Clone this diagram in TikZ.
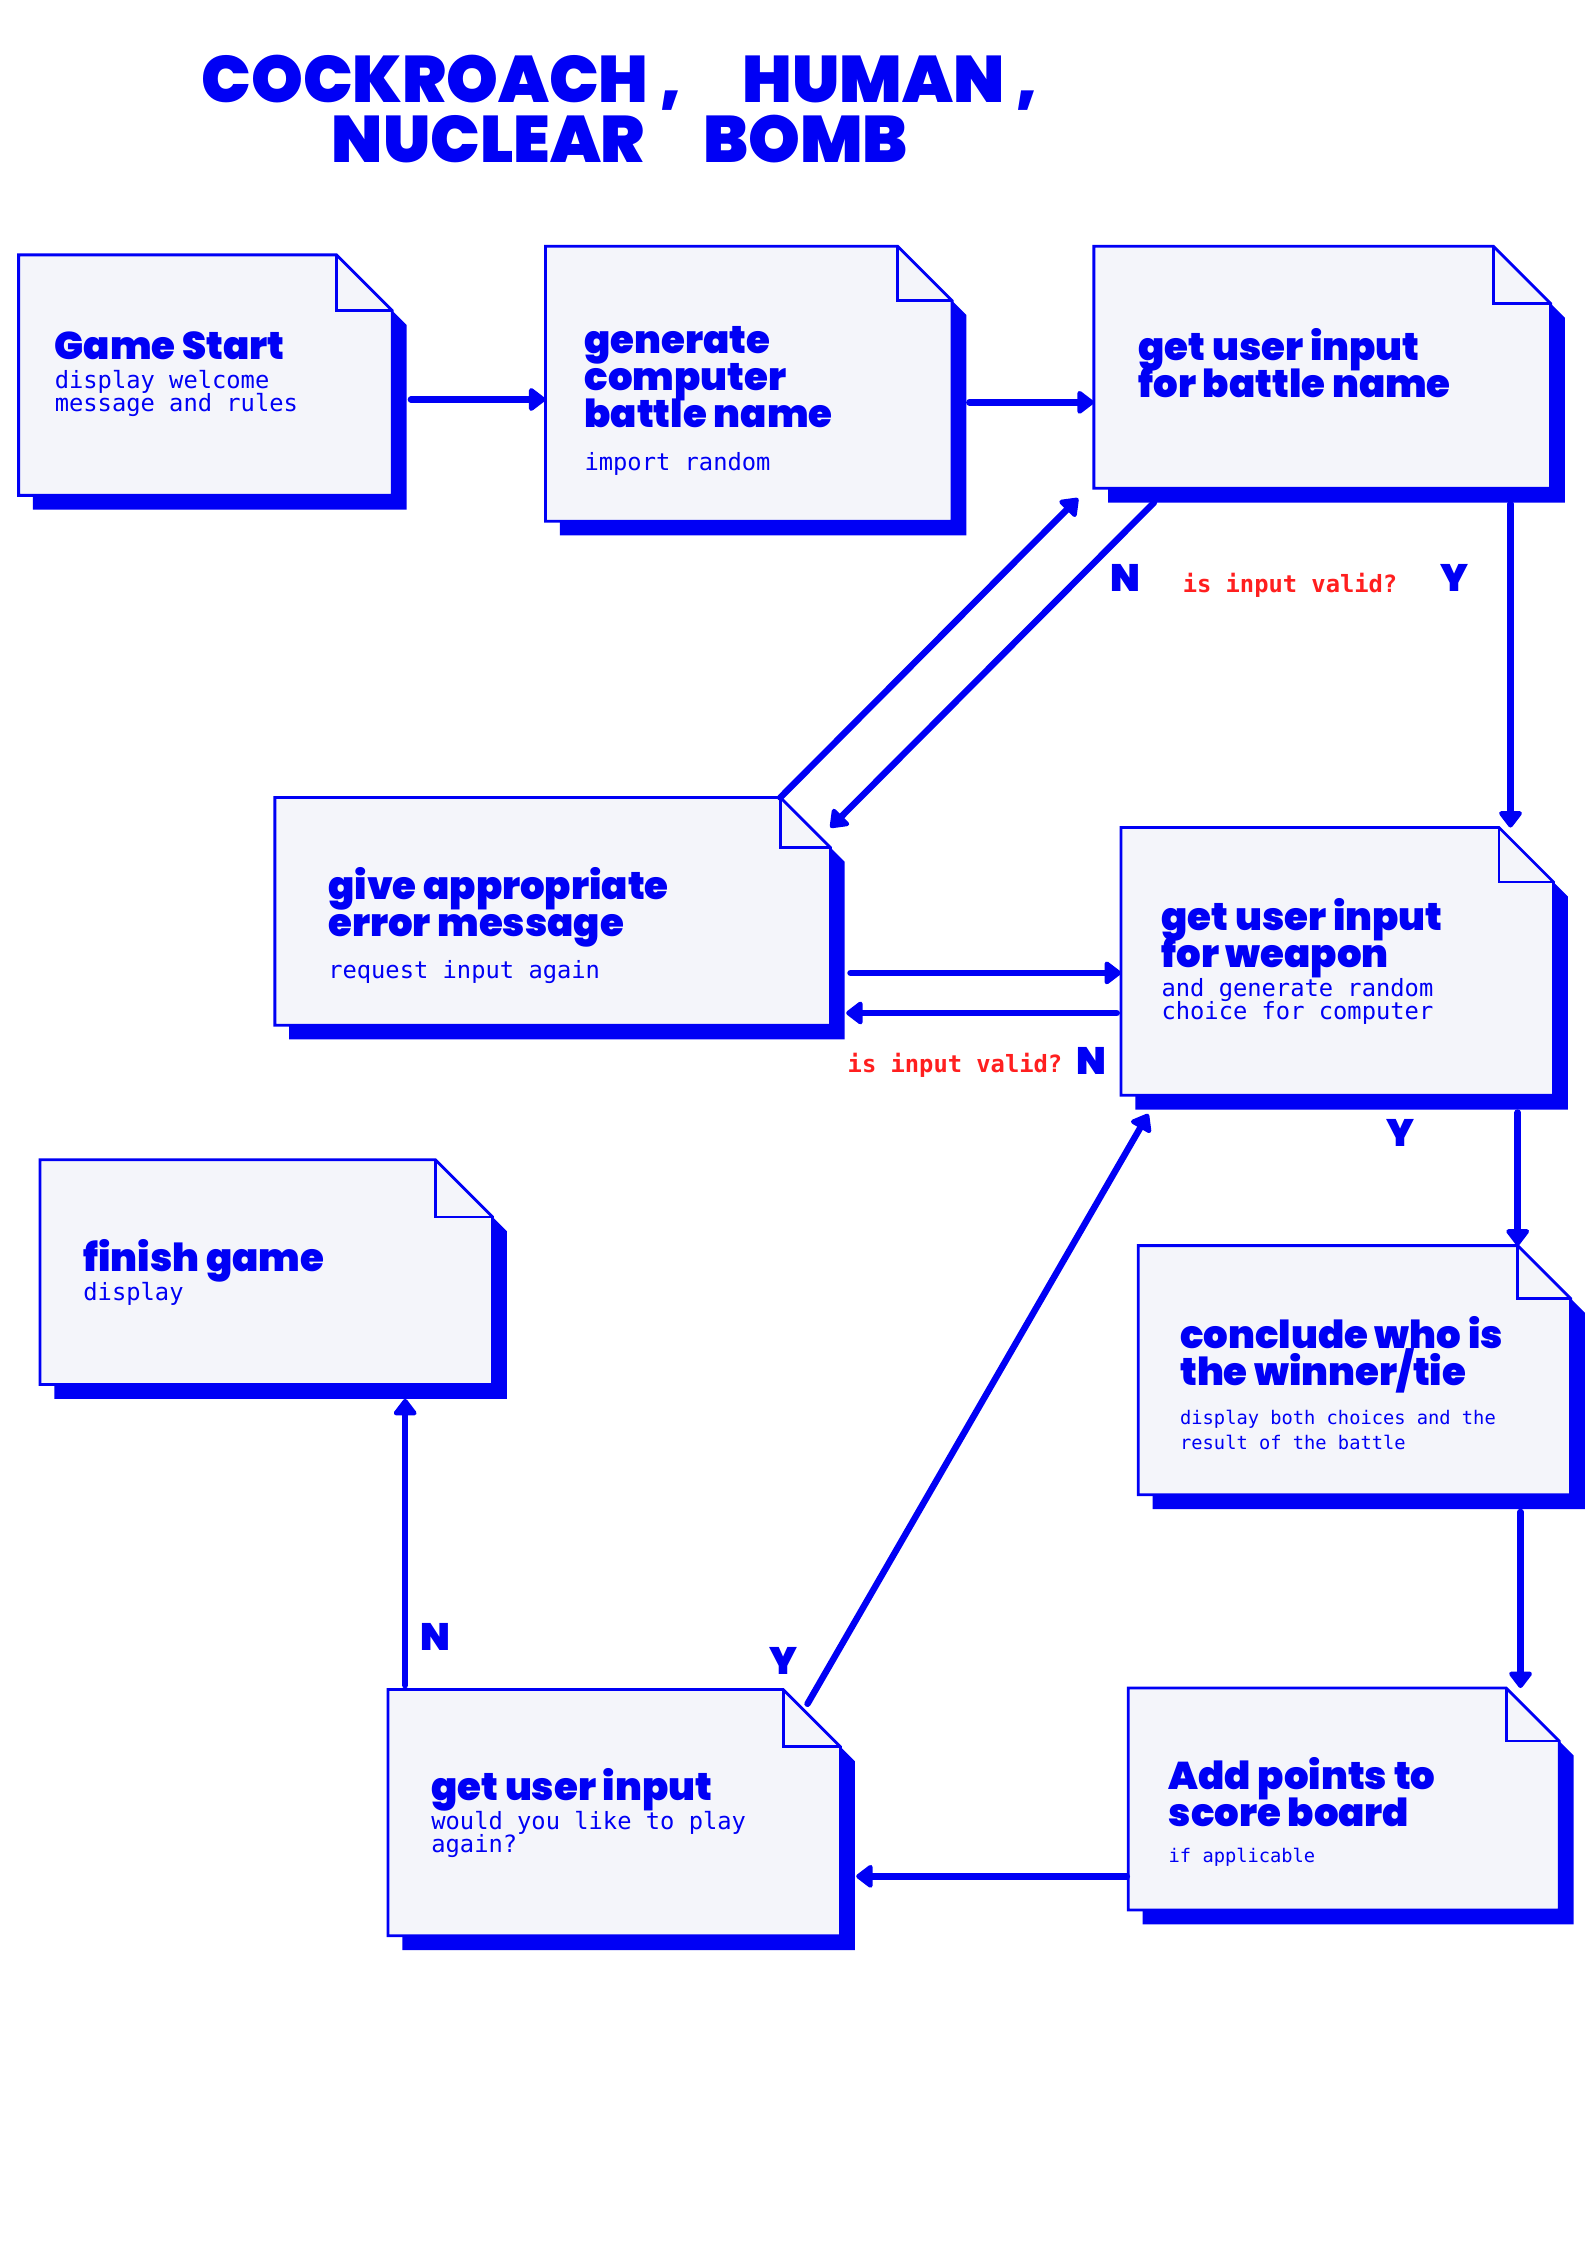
\documentclass[tikz,border=0pt]{standalone}
\usepackage{fontspec}
\setmainfont{Poppins}
\newfontfamily\heavyfont{Poppins}[UprightFont=* Black]
\newfontfamily\codefont{DejaVu Sans Mono}
\usepackage{xcolor}
\usetikzlibrary{arrows.meta, positioning, calc}

\definecolor{inkblue}{HTML}{0000F5}
\definecolor{paper}{HTML}{F4F5FA}
\definecolor{alertred}{HTML}{FF1F1F}

% text inside the sheets
\newcommand\boxhead[1]{{\heavyfont\fontsize{19.2}{18.2}\selectfont
  \lineskiplimit=-20pt\lineskip=0pt #1\par}}
\newcommand\boxnote[2][3pt]{{\vspace{#1}\codefont\fontsize{11.8}{11.4}\selectfont
  \spaceskip=0pt\xspaceskip=0pt\lineskiplimit=-20pt\lineskip=0pt #2\par}}
\newcommand\smallnote[2][3pt]{{\vspace{#1}\codefont\fontsize{9.3}{12.1}\selectfont
  \spaceskip=0pt\xspaceskip=0pt\lineskiplimit=-20pt\lineskip=0pt #2\par}}

% dog-eared sheet with offset shadow: name, left, top, right, bottom, fold
\newcommand\docbox[6]{%
  \pgfmathsetmacro\boxw{(#4-#2)*0.025}%
  \pgfmathsetmacro\boxh{(#5-#3)*0.025}%
  \node[docframe, minimum width=\boxw cm, minimum height=\boxh cm] (#1) at ({(#2+#4)/2},{(#3+#5)/2}) {};
  \fill[inkblue] ([shift={(10,10)}]#1.north west) -- ([shift={(10-#6,10)}]#1.north east)
    -- ([shift={(10,10+#6)}]#1.north east) -- ([shift={(10,10)}]#1.south east)
    -- ([shift={(10,10)}]#1.south west) -- cycle;
  \filldraw[sheet] (#1.north west) -- ([shift={(-#6,0)}]#1.north east)
    -- ([shift={(0,#6)}]#1.north east) -- (#1.south east) -- (#1.south west) -- cycle;
  \draw[sheet, fill=none] ([shift={(-#6,0)}]#1.north east) -- ([shift={(-#6,#6)}]#1.north east)
    -- ([shift={(0,#6)}]#1.north east);
}

\begin{document}
\begin{tikzpicture}[x=0.025cm, y=-0.025cm,
  docframe/.style={rectangle, inner sep=0pt, outer sep=0pt},
  sheet/.style={fill=paper, draw=inkblue, line width=1.4pt, line join=miter},
  boxtext/.style={anchor=west, inner sep=0pt, text width=8cm, align=left, text=inkblue},
  flow/.style={draw=inkblue, line width=3.2pt, line cap=round, -{Triangle[round, length=9pt, width=13pt]}},
  yn/.style={font=\heavyfont\fontsize{19}{19}\selectfont, text=inkblue, inner sep=0pt},
  check/.style={font=\codefont\bfseries\fontsize{11.8}{12}\selectfont, text=alertred, inner sep=0pt}]

  \fill[white] (0,0) rectangle (1108,1568);
  \useasboundingbox (0,0) rectangle (1108,1568);

  % Title
  \node[font=\heavyfont\fontsize{32.7}{30}\selectfont, text=inkblue, align=center]
    (title) at (433,76) {COCKROACH ,\hspace{30pt}HUMAN ,\\NUCLEAR\hspace{29pt}BOMB};

  % Sheets
  \docbox{start}{13}{178}{274}{346}{39}
  \docbox{gen}{381}{172}{665}{364}{38}
  \docbox{bname}{764}{172}{1083}{341}{40}
  \docbox{err}{192}{557}{580}{716}{35}
  \docbox{wpn}{783}{578}{1085}{765}{38}
  \docbox{finish}{28}{810}{344}{967}{40}
  \docbox{win}{795}{870}{1097}{1044}{37}
  \docbox{again}{271}{1180}{587}{1352}{40}
  \docbox{pts}{788}{1179}{1089}{1334}{37}

  % Sheet texts
  \node[boxtext] (start-txt) at ([shift={(25,-1)}]start.west)
    {\boxhead{Game Start}\boxnote{display welcome\\message and rules}};
  \node[boxtext] (gen-txt) at ([shift={(27,12)}]gen.west)
    {\boxhead{generate\\computer\\battle name}\boxnote[10pt]{import random}};
  \node[boxtext] (bname-txt) at ([shift={(31,-3)}]bname.west)
    {\boxhead{get user input\\for battle name}};
  \node[boxtext] (err-txt) at ([shift={(37,10)}]err.west)
    {\boxhead{give appropriate\\error message}\boxnote[9.5pt]{request input again}};
  \node[boxtext] (wpn-txt) at ([shift={(28,0)}]wpn.west)
    {\boxhead{get user input\\for weapon}\boxnote{and generate random\\choice for computer}};
  \node[boxtext] (finish-txt) at ([shift={(30,0)}]finish.west)
    {\boxhead{finish game}\boxnote{display}};
  \node[boxtext] (win-txt) at ([shift={(29,9)}]win.west)
    {\boxhead{conclude who is\\the winner/tie}\smallnote[7.5pt]{display both choices and the\\result of the battle}};
  \node[boxtext] (again-txt) at ([shift={(30,0)}]again.west)
    {\boxhead{get user input}\boxnote{would you like to play\\again?}};
  \node[boxtext] (pts-txt) at ([shift={(28,9)}]pts.west)
    {\boxhead{Add points to\\score board}\smallnote[6pt]{if applicable}};

  % Connectors, top row
  \coordinate (a1) at ([shift={(13,17)}]start.east);
  \draw[flow] (a1) -- (a1 -| gen.west);
  \coordinate (b1) at ([shift={(12,13)}]gen.east);
  \draw[flow] (b1) -- (b1 -| bname.west);

  % battle name valid?
  \coordinate (c1) at ([shift={(42,10)}]bname.south west);
  \coordinate (c2) at ([shift={(0,21)}]err.north east);
  \draw[flow] (c1) -- (c2);
  \coordinate (d1) at ([shift={(-35,0)}]err.north east);
  \coordinate (d2) at ([shift={(-11,7)}]bname.south west);
  \draw[flow] (d1) -- (d2);
  \coordinate (c3) at ([shift={(-28,11)}]bname.south east);
  \draw[flow] (c3) -- (c3 |- wpn.north);

  % weapon valid?
  \coordinate (d3) at ([shift={(14,43)}]err.east);
  \draw[flow] (d3) -- (d3 -| wpn.west);
  \coordinate (e1) at ([shift={(-3,36)}]wpn.west);
  \draw[flow] (e1) -- ($(e1 -| err.east)+(11,0)$);

  % right column down
  \coordinate (e2) at ([shift={(-25,12)}]wpn.south east);
  \draw[flow] (e2) -- (e2 |- win.north);
  \coordinate (g1) at ([shift={(-35,12)}]win.south east);
  \draw[flow] (g1) -- (g1 |- pts.north);
  \coordinate (i1) at ([shift={(-1,54)}]pts.west);
  \draw[flow] (i1) -- ($(i1 -| again.east)+(11,0)$);

  % play again?
  \coordinate (h1) at ([shift={(-23,10)}]again.north east);
  \coordinate (e3) at ([shift={(19,13)}]wpn.south west);
  \draw[flow] (h1) -- (e3);
  \coordinate (h2) at ([shift={(12,-3)}]again.north west);
  \draw[flow] (h2) -- ($(h2 |- finish.south)+(0,10)$);

  % Y / N labels
  \node[yn] (n-bname) at (786,404) {N};
  \node[check] (chk-bname) at (901,409) {is input valid?};
  \node[yn] (y-bname) at (1016,404) {Y};
  \node[check] (chk-wpn) at (667,744) {is input valid?};
  \node[yn] (n-wpn) at (762,741) {N};
  \node[yn] (y-wpn) at (978,791) {Y};
  \node[yn] (n-again) at (304,1143) {N};
  \node[yn] (y-again) at (547,1160) {Y};

\end{tikzpicture}
\end{document}
